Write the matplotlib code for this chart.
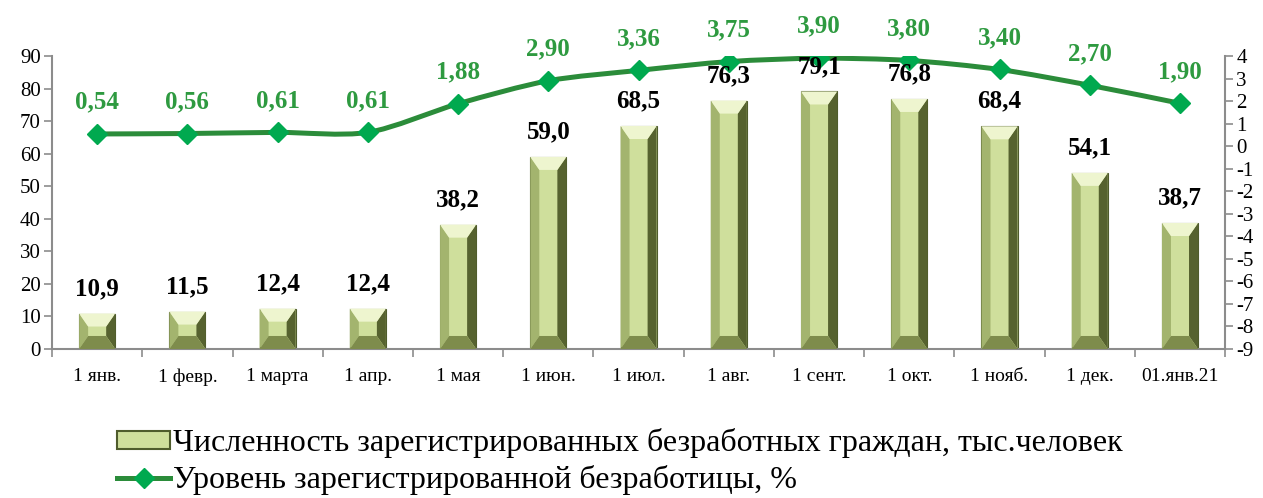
import matplotlib.pyplot as plt
from matplotlib.patches import Polygon, Patch, PathPatch
from matplotlib.path import Path
from matplotlib.lines import Line2D

plt.rcParams['font.family'] = ['Liberation Serif', 'DejaVu Serif']
plt.rcParams['axes.unicode_minus'] = False

categories = ["1 янв.", "1 февр.", "1 марта", "1 апр.", "1 мая", "1 июн.",
              "1 июл.", "1 авг.", "1 сент.", "1 окт.", "1 нояб.", "1 дек.",
              "01.янв.21"]
unemployed = [10.9, 11.5, 12.4, 12.4, 38.2, 59.0, 68.5, 76.3, 79.1, 76.8,
              68.4, 54.1, 38.7]
rate = [0.54, 0.56, 0.61, 0.61, 1.88, 2.90, 3.36, 3.75, 3.90, 3.80, 3.40,
        2.70, 1.90]
bar_name = "Численность зарегистрированных безработных граждан, тыс.человек"
line_name = "Уровень зарегистрированной безработицы, %"

axis_grey = "#8c8c8c"
face = "#cfdf9c"
line_col = "#2b8c3a"
marker_col = "#00a94f"
label_green = "#2e9a40"


def fmt(v, nd):
    return f"{v:.{nd}f}".replace(".", ",")


def smooth_path(xs, ys, k=1 / 6):
    # Excel-style smoothed line as cubic Bezier segments
    verts = [(xs[0], ys[0])]
    codes = [Path.MOVETO]
    n = len(xs)
    for i in range(n - 1):
        p0 = (xs[max(i - 1, 0)], ys[max(i - 1, 0)])
        p1 = (xs[i], ys[i])
        p2 = (xs[i + 1], ys[i + 1])
        p3 = (xs[min(i + 2, n - 1)], ys[min(i + 2, n - 1)])
        c1 = (p1[0] + (p2[0] - p0[0]) * k, p1[1] + (p2[1] - p0[1]) * k)
        c2 = (p2[0] - (p3[0] - p1[0]) * k, p2[1] - (p3[1] - p1[1]) * k)
        verts += [c1, c2, p2]
        codes += [Path.CURVE4] * 3
    return Path(verts, codes)


fig = plt.figure(figsize=(12.63, 4.98), dpi=100)
ax = fig.add_axes([0.0412, 0.2992, 0.9288, 0.5884])
x = list(range(len(categories)))

bars = ax.bar(x, unemployed, width=0.4, color=face, edgecolor="#4f5c2c",
              linewidth=0.8, zorder=2)

# bevel look on each bar
bx, by = 0.1, 4.0
for b in bars:
    x0, y0 = b.get_x(), b.get_y()
    w, h = b.get_width(), b.get_height()
    x1, y1 = x0 + w, y0 + h
    ix0, ix1 = x0 + bx, x1 - bx
    iy0, iy1 = y0 + min(by, h / 2), y1 - min(by, h / 2)
    sides = [
        ([(x0, y0), (ix0, iy0), (ix0, iy1), (x0, y1)], "#a3b46e"),
        ([(x1, y0), (ix1, iy0), (ix1, iy1), (x1, y1)], "#56622f"),
        ([(x0, y1), (ix0, iy1), (ix1, iy1), (x1, y1)], "#eef5cf"),
        ([(x0, y0), (ix0, iy0), (ix1, iy0), (x1, y0)], "#7e8c4c"),
    ]
    for pts, c in sides:
        ax.add_patch(Polygon(pts, closed=True, facecolor=c, edgecolor="none",
                             zorder=3))

ax.set_ylim(0, 90)
ax.set_yticks(range(0, 91, 10))
ax.set_xlim(-0.5, len(categories) - 0.5)
ax.set_xticks([i - 0.5 for i in range(len(categories) + 1)])
ax.set_xticklabels([])
ax.set_xticks(x, minor=True)
ax.set_xticklabels(categories, minor=True)
ax.tick_params(axis="x", which="major", length=6, color=axis_grey, width=1.2)
ax.tick_params(axis="x", which="minor", length=0, labelsize=14, pad=14)
ax.tick_params(axis="y", length=6, color=axis_grey, width=1.2, labelsize=15,
               pad=2)
for s in ["top", "right"]:
    ax.spines[s].set_visible(False)
for s in ["left", "bottom"]:
    ax.spines[s].set_color(axis_grey)
    ax.spines[s].set_linewidth(1.5)

ax2 = ax.twinx()
ax2.add_patch(PathPatch(smooth_path(x, rate, k=1 / 7), facecolor="none",
                        edgecolor=line_col, linewidth=3.6, zorder=3,
                        capstyle="round"))
ax2.plot(x, rate, linestyle="none", marker="D", markersize=10,
         markerfacecolor=marker_col, markeredgecolor=marker_col, zorder=4)
for xi, v in zip(x, rate):
    ax2.annotate(fmt(v, 2), (xi, v), xytext=(0, 23), textcoords="offset points",
                 ha="center", va="center", fontsize=18, fontweight="bold",
                 color=label_green)
ax2.set_ylim(-9, 4)
ax2.set_yticks(range(-9, 5))
ax2.tick_params(axis="y", length=6, color=axis_grey, width=1.2, labelsize=15,
                pad=2)
for s in ["top", "left", "bottom"]:
    ax2.spines[s].set_visible(False)
ax2.spines["right"].set_color(axis_grey)
ax2.spines["right"].set_linewidth(1.5)

# bar value labels drawn over the line
for xi, v in zip(x, unemployed):
    ax2.annotate(fmt(v, 1), (xi, v), xycoords=ax.transData, xytext=(0, 18),
                 textcoords="offset points", ha="center", va="center",
                 fontsize=18, fontweight="bold", color="black", zorder=6)

handles = [
    Patch(facecolor=face, edgecolor="#4f5c2c", linewidth=1.5),
    Line2D([0], [0], color=line_col, linewidth=3.6, marker="D", markersize=10,
           markerfacecolor=marker_col, markeredgecolor=marker_col),
]
fig.legend(handles, [bar_name, line_name], loc="upper left",
           bbox_to_anchor=(0.093, 0.14), frameon=False, fontsize=23,
           handlelength=1.65, handleheight=0.5, handletextpad=0.08,
           labelspacing=0.22, borderaxespad=0, borderpad=0)

fig.savefig("out.png", dpi=100)
